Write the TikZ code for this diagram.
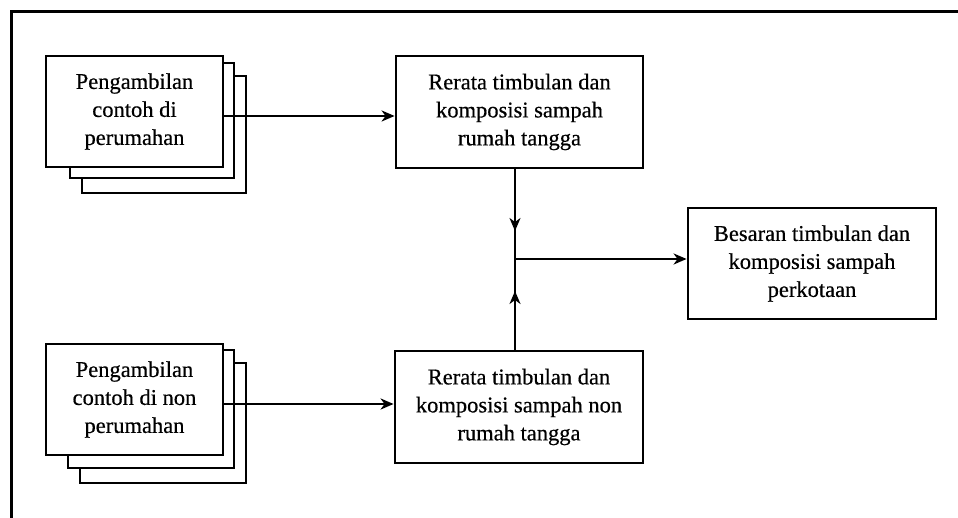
\documentclass[tikz,border=0pt]{standalone}
\usepackage{fontspec}
\setmainfont{Liberation Serif}[BoldFont={Liberation Serif}, BoldFeatures={FakeBold=0.5}]
\usetikzlibrary{arrows.meta}
\tikzset{
  box/.style={draw, line width=2.8pt, fill=white, align=center, inner sep=0pt,
    font=\fontsize{22.5}{28}\selectfont\bfseries},
  layer/.style={draw, line width=2.8pt, fill=white},
  conn/.style={line width=2.2pt},
  arr/.style={conn, -{Stealth[length=13pt,width=11pt,inset=4pt]}},
}
\begin{document}
\begin{tikzpicture}[x=1pt,y=-1pt]
\useasboundingbox (0,0) rectangle (958,518);
% frame
\draw[line width=3pt] (11,530) -- (11,11.5) -- (970,11.5);

% upper stack
\node[layer, minimum width=164pt, minimum height=117pt] (u3) at (164,134.5) {};
\node[layer, minimum width=164pt, minimum height=115pt] (u2) at (152,120.5) {};
\node[box, minimum width=177pt, minimum height=111pt] (u1) at (134.5,111.5) {Pengambilan\\contoh di\\perumahan};

% lower stack
\node[layer, minimum width=166pt, minimum height=120pt] (l3) at (163,423) {};
\node[layer, minimum width=166pt, minimum height=118pt] (l2) at (151,409) {};
\node[box, minimum width=177pt, minimum height=111pt] (l1) at (134.5,399.5) {Pengambilan\\contoh di non\\perumahan};

% result boxes
\node[box, minimum width=247pt, minimum height=112pt] (r1) at (519.5,112) {Rerata timbulan dan\\komposisi sampah\\rumah tangga};
\node[box, minimum width=248pt, minimum height=112pt] (r2) at (519,407) {Rerata timbulan dan\\komposisi sampah non\\rumah tangga};
\node[box, minimum width=248pt, minimum height=111pt] (b) at (812,263.5) {Besaran timbulan dan\\komposisi sampah\\perkotaan};

% connectors
\draw[arr] ([yshift=-4.5pt]u1.east) -- ([yshift=-4.5pt]u1.east -| r1.west);
\draw[arr] ([yshift=-4.5pt]l1.east) -- ([yshift=-4.5pt]l1.east -| r2.west);

\coordinate (j) at (515,259);
\coordinate (ta) at (515,231);
\coordinate (tb) at (515,291);
\coordinate (s1) at ([xshift=-4.5pt]r1.south);
\coordinate (s2) at ([xshift=-4pt]r2.north);
\draw[conn] (s1) -- (j);
\draw[conn] (s2) -- (j);
\draw[arr] (s1) -- (ta);
\draw[arr] (s2) -- (tb);
\draw[arr] (j) -- (j -| b.west);
\end{tikzpicture}
\end{document}
